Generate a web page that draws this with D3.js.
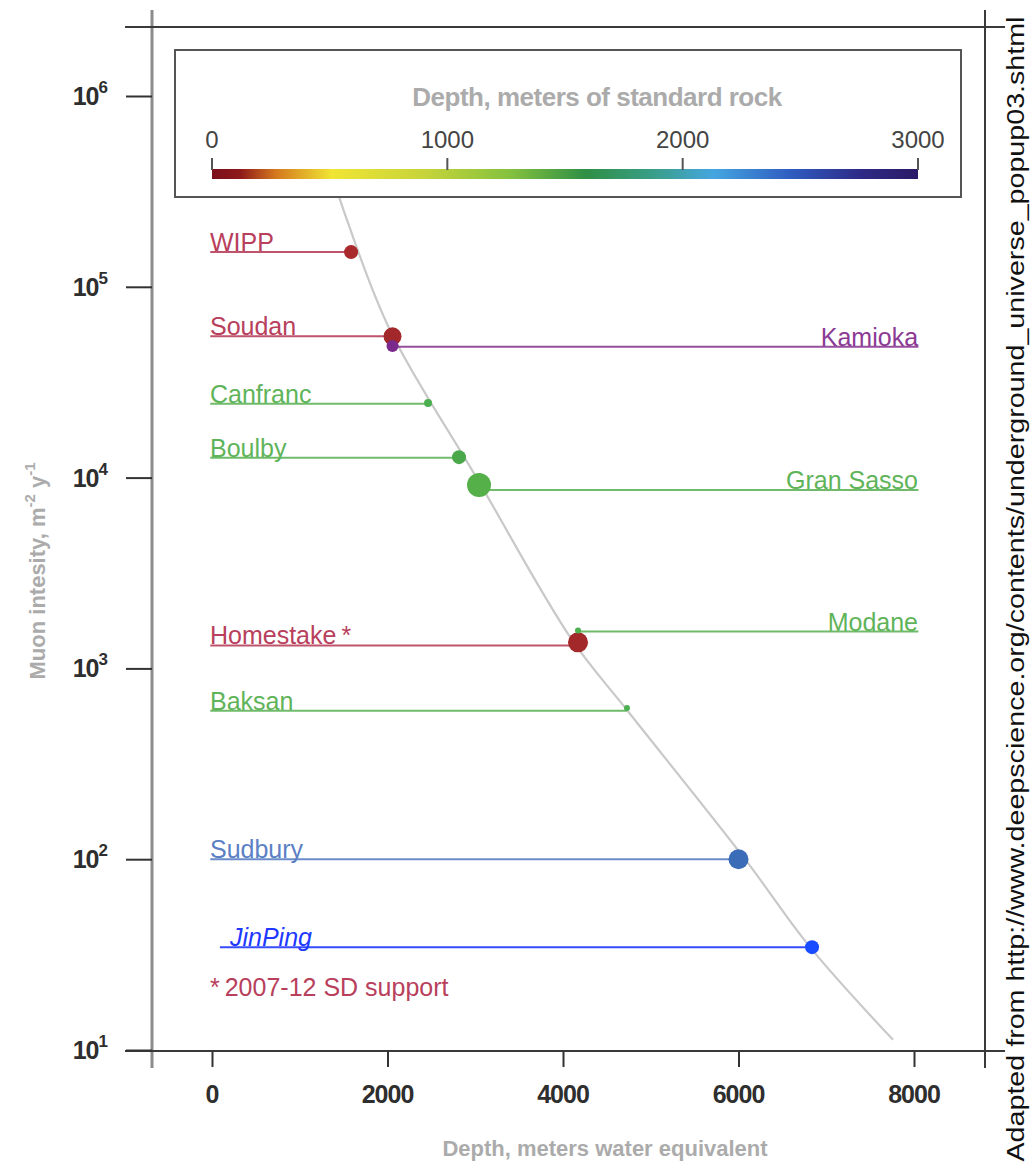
<!DOCTYPE html>
<html>
<head>
<meta charset="utf-8">
<script src="https://cdn.jsdelivr.net/npm/d3@7"></script>
<style>
  html, body { margin: 0; padding: 0; background: #fff; }
  svg { display: block; font-family: "Liberation Sans", Arial, Helvetica, sans-serif; }
</style>
</head>
<body>
<svg id="chart" width="1032" height="1169"></svg>
<script>
// ---------------- DATA ----------------
const sites        = ["WIPP", "Soudan", "Kamioka", "Canfranc", "Boulby", "Gran Sasso", "Homestake", "Modane", "Baksan", "Sudbury", "JinPing"];
const depthMWE     = [1585, 2057, 2057, 2462, 2815, 3043, 4171, 4171, 4729, 6000, 6838];
const intensity    = [1.52e5, 5.5e4, 4.9e4, 2.46e4, 1.28e4, 9.15e3, 1.37e3, 1.58e3, 620, 100, 34.6];
const lineLevel    = [1.52e5, 5.5e4, 4.85e4, 2.44e4, 1.27e4, 8.6e3, 1.32e3, 1.56e3, 600, 100, 34.6];
const labelSide    = ["left", "left", "right", "left", "left", "right", "left", "right", "left", "left", "left"];
const labelText    = ["WIPP", "Soudan", "Kamioka", "Canfranc", "Boulby", "Gran Sasso", "Homestake\u2009*", "Modane", "Baksan", "Sudbury", "JinPing"];
const lineStart    = [-20, -20, 2057, -20, -20, 3043, -20, 4171, -20, -20, 90];
const lineEnd      = [1585, 2057, 8050, 2462, 2815, 8050, 4171, 8050, 4729, 6000, 6838];
const dotRadius    = [7, 9, 6, 4, 7, 12, 10, 3, 3, 10, 7];
const dotColor     = ["#a82a2c", "#a3282c", "#7a2a8c", "#4caf50", "#4aa84a", "#55b049", "#a3282a", "#4caf50", "#4caf50", "#3b6cb8", "#1a4cff"];
const labelColor   = ["#b8405c", "#b8405c", "#8b3a94", "#5fb45a", "#5fb45a", "#5fb45a", "#b8405c", "#5fb45a", "#5fb45a", "#5b80c4", "#2038ff"];

const curveDepth     = [1379, 1538, 2028, 3031, 4103, 4729, 6074, 6815, 7761];
const curveIntensity = [3.72e5, 2.24e5, 5.94e4, 9.7e3, 1409, 605, 100, 34.6, 11.3];

// axes
const xTicks = [0, 2000, 4000, 6000, 8000];
const yTicks = [1e1, 1e2, 1e3, 1e4, 1e5, 1e6];
const yExponents = ["1", "2", "3", "4", "5", "6"];

// colour bar
const rockTicks = [0, 1000, 2000, 3000];
const rockStops = [0, 0.04, 0.09, 0.17, 0.30, 0.42, 0.53, 0.63, 0.71, 0.82, 0.92, 1.0];
const rockColors = ["#7a0f1c", "#8e1a1a", "#d4781e", "#f0e534", "#c7d43a", "#86c23e", "#2f8f45", "#3a9f8c", "#45a6e0", "#2f5cc0", "#2e2a85", "#2b1a66"];

// ---------------- DRAW ----------------
const svg = d3.select("#chart");
const x = d3.scaleLinear().domain([0, 8000]).range([212, 914]);
const y = d3.scaleLog().domain([10, 1e6]).range([1050, 96]);

const frame = { left: 152, right: 985, top: 27, bottom: 1051 };

// gray model curve
const curvePts = curveDepth.map((d, i) => [x(d), y(curveIntensity[i])]);
svg.append("path")
  .attr("d", d3.line().curve(d3.curveCatmullRom.alpha(0.5))(curvePts))
  .attr("fill", "none")
  .attr("stroke", "#c9c9c9")
  .attr("stroke-width", 2.2);

// frame lines
const frameG = svg.append("g").attr("stroke", "#3a3a3a").attr("stroke-width", 2);
frameG.append("line").attr("x1", frame.left).attr("x2", frame.left).attr("y1", 10).attr("y2", 1068).attr("stroke", "#8c8c8c").attr("stroke-width", 3);
frameG.append("line").attr("x1", frame.right).attr("x2", frame.right).attr("y1", 10).attr("y2", 1068);
frameG.append("line").attr("x1", 125).attr("x2", 1005).attr("y1", frame.top).attr("y2", frame.top);
frameG.append("line").attr("x1", 125).attr("x2", 1005).attr("y1", frame.bottom).attr("y2", frame.bottom);

// y axis
const yAxis = svg.append("g").attr("transform", `translate(${frame.left},0)`)
  .call(d3.axisLeft(y).tickValues(yTicks).tickSize(26).tickFormat(""));
yAxis.select(".domain").remove();
yAxis.selectAll(".tick line").attr("stroke", "#333").attr("stroke-width", 2);
yTicks.forEach((v, i) => {
  const t = svg.append("text")
    .attr("x", 107).attr("y", y(v) + 9)
    .attr("text-anchor", "end")
    .attr("font-weight", "bold").attr("font-size", 25).attr("fill", "#2e2e2e")
    .attr("letter-spacing", -1);
  t.append("tspan").text("10");
  t.append("tspan").attr("dy", -12).attr("font-size", 17).text(yExponents[i]);
});

// x axis
const xAxis = svg.append("g").attr("transform", `translate(0,${frame.bottom})`)
  .call(d3.axisBottom(x).tickValues(xTicks).tickSize(16).tickFormat(""));
xAxis.select(".domain").remove();
xAxis.selectAll(".tick line").attr("stroke", "#333").attr("stroke-width", 2);
xTicks.forEach(v => {
  svg.append("text")
    .attr("x", x(v)).attr("y", 1103)
    .attr("text-anchor", "middle")
    .attr("font-weight", "bold").attr("font-size", 25).attr("fill", "#2e2e2e")
    .attr("letter-spacing", -1)
    .text(d3.format("d")(v));
});

// axis titles
svg.append("text")
  .attr("x", 605).attr("y", 1156)
  .attr("text-anchor", "middle")
  .attr("font-weight", "bold").attr("font-size", 22).attr("fill", "#ababab")
  .text("Depth, meters water equivalent");

const yTitle = svg.append("text")
  .attr("transform", "translate(45,571) rotate(-90)")
  .attr("text-anchor", "middle")
  .attr("font-weight", "bold").attr("font-size", 22).attr("fill", "#ababab");
yTitle.append("tspan").text("Muon intesity, m");
yTitle.append("tspan").attr("dy", -10).attr("font-size", 15).text("-2");
yTitle.append("tspan").attr("dy", 10).text(" y");
yTitle.append("tspan").attr("dy", -10).attr("font-size", 15).text("-1");

// site lines, dots, labels
const sitesG = svg.append("g");
sites.forEach((s, i) => {
  const ly = y(lineLevel[i]);
  sitesG.append("line")
    .attr("x1", x(lineStart[i])).attr("x2", x(lineEnd[i]))
    .attr("y1", ly).attr("y2", ly)
    .attr("stroke", labelColor[i]).attr("stroke-width", 2).attr("stroke-opacity", 0.9);
});
sites.forEach((s, i) => {
  sitesG.append("circle")
    .attr("cx", x(depthMWE[i])).attr("cy", y(intensity[i]))
    .attr("r", dotRadius[i])
    .attr("fill", dotColor[i]);
});
sites.forEach((s, i) => {
  const ly = y(lineLevel[i]);
  const isRight = labelSide[i] === "right";
  const lx = isRight ? x(8046) : (s === "JinPing" ? x(205) : x(-23));
  sitesG.append("text")
    .attr("x", lx).attr("y", ly - 1)
    .attr("text-anchor", isRight ? "end" : "start")
    .attr("font-size", 25)
    .attr("font-style", s === "JinPing" ? "italic" : "normal")
    .attr("fill", labelColor[i])
    .text(labelText[i]);
});

// footnote
svg.append("text")
  .attr("x", x(-23)).attr("y", 996)
  .attr("font-size", 25).attr("fill", "#b8405c")
  .text("*\u20092007-12 SD support");

// legend box with colour bar
const legend = svg.append("g");
legend.append("rect")
  .attr("x", 175).attr("y", 50).attr("width", 786).attr("height", 147)
  .attr("fill", "#fff").attr("stroke", "#555").attr("stroke-width", 2);
legend.append("text")
  .attr("x", 597).attr("y", 106)
  .attr("text-anchor", "middle")
  .attr("font-weight", "bold").attr("font-size", 26).attr("fill", "#ababab")
  .attr("letter-spacing", -0.5)
  .text("Depth, meters of standard rock");

const c = d3.scaleLinear().domain([0, 3000]).range([212, 918]);
const grad = svg.append("defs").append("linearGradient").attr("id", "rockGrad")
  .attr("x1", "0%").attr("x2", "100%").attr("y1", "0%").attr("y2", "0%");
rockStops.forEach((o, i) => grad.append("stop").attr("offset", o).attr("stop-color", rockColors[i]));
legend.append("rect")
  .attr("x", c(0)).attr("y", 169).attr("width", c(3000) - c(0)).attr("height", 10)
  .attr("fill", "url(#rockGrad)");
rockTicks.forEach(v => {
  legend.append("line")
    .attr("x1", c(v)).attr("x2", c(v)).attr("y1", 158).attr("y2", 170)
    .attr("stroke", "#555").attr("stroke-width", 2);
  legend.append("text")
    .attr("x", c(v)).attr("y", 148)
    .attr("text-anchor", "middle")
    .attr("font-size", 24).attr("fill", "#444")
    .text(v);
});

// source note (right side)
svg.append("text")
  .attr("transform", "translate(1016,589) rotate(-90)")
  .attr("text-anchor", "middle")
  .attr("dominant-baseline", "central")
  .attr("font-size", 23).attr("fill", "#111")
  .attr("textLength", 1145).attr("lengthAdjust", "spacingAndGlyphs")
  .text("Adapted from http://www.deepscience.org/contents/underground_universe_popup03.shtml");
</script>
</body>
</html>
